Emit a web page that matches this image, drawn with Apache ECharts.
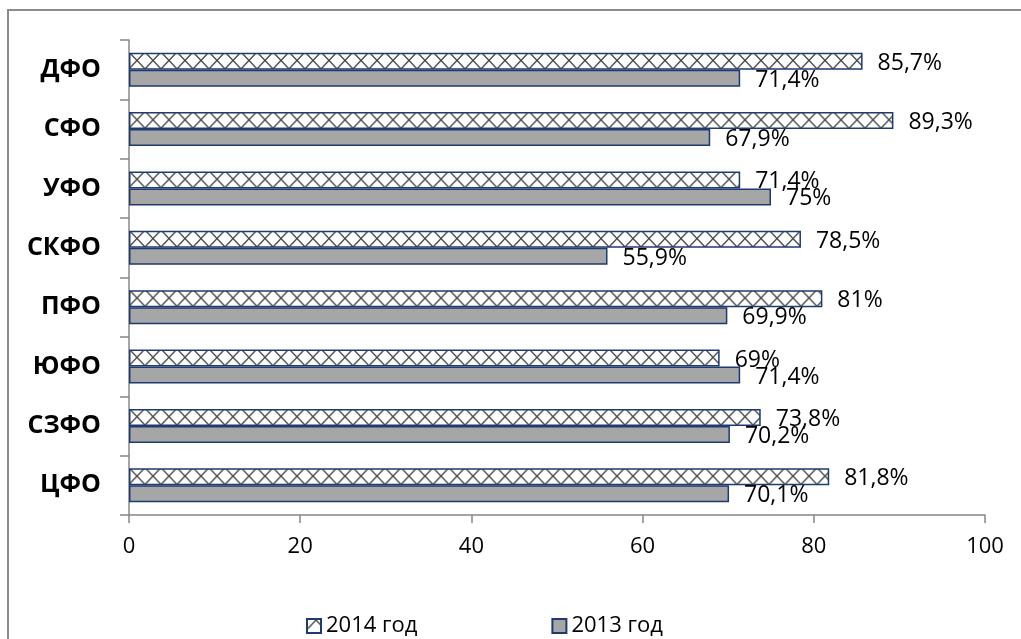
<!DOCTYPE html>
<html>
<head>
<meta charset="utf-8">
<script src="https://cdn.jsdelivr.net/npm/echarts@6/dist/echarts.min.js"></script>
<style>
html,body{margin:0;padding:0;background:#fff;}
#chart{width:1021px;height:639px;}
</style>
</head>
<body>
<div id="chart"></div>
<script>
const categories = ['ЦФО','СЗФО','ЮФО','ПФО','СКФО','УФО','СФО','ДФО'];
const values2014 = [81.8, 73.8, 69, 81, 78.5, 71.4, 89.3, 85.7];
const values2013 = [70.1, 70.2, 71.4, 69.9, 55.9, 75, 67.9, 71.4];
const seriesNames = ['2014 год', '2013 год'];
const xTicks = [0, 20, 40, 60, 80, 100];

function pct(v){ return String(v).replace('.', ',') + '%'; }

// hatch tile (crosses)
const tile = document.createElement('canvas');
tile.width = 16; tile.height = 60;
const c = tile.getContext('2d');
c.fillStyle = '#fff'; c.fillRect(0,0,16,60);
c.strokeStyle = '#4a4a4a'; c.lineWidth = 1.4;
c.beginPath();
c.moveTo(0,0); c.lineTo(16,17);
c.moveTo(16,0); c.lineTo(0,17);
c.stroke();

const FONT = '"Open Sans", sans-serif';
const chart = echarts.init(document.getElementById('chart'), null, {renderer:'canvas'});
const labelCfg = {
  show: true, position: 'right', distance: 15, offset: [0, 2],
  color: '#000', fontFamily: FONT, fontSize: 23,
  formatter: p => pct(p.value)
};
chart.setOption({
  animation: false,
  backgroundColor: '#fff',
  graphic: [{
    type: 'rect', silent: true,
    shape: {x: 8, y: 10, width: 1100, height: 700},
    style: {fill: 'none', stroke: '#8c8c8c', lineWidth: 2}
  }],
  grid: {left: 129, right: 36, top: 40, bottom: 124, containLabel: false},
  legend: {
    data: seriesNames, top: 610, left: 301,
    itemWidth: 14, itemHeight: 14, itemGap: 134,
    textStyle: {fontFamily: FONT, fontSize: 22, color: '#000'},
    icon: 'rect'
  },
  xAxis: {
    type: 'value', min: 0, max: 100, interval: 20,
    splitLine: {show: false},
    axisLine: {show: true, lineStyle: {color: '#878787', width: 1.5}},
    axisTick: {show: true, length: 8, lineStyle: {color: '#878787', width: 1.5}},
    axisLabel: {color: '#000', fontFamily: FONT, fontSize: 22, margin: 21}
  },
  yAxis: {
    type: 'category', data: categories,
    axisLine: {show: true, lineStyle: {color: '#878787', width: 1.5}},
    axisTick: {show: true, length: 9, lineStyle: {color: '#878787', width: 1.5}},
    axisLabel: {color: '#000', fontFamily: FONT, fontSize: 25, fontWeight: 'bold', margin: 28}
  },
  series: [
    {
      name: seriesNames[0], type: 'bar', data: values2014, barWidth: 17, barGap: '0%',
      itemStyle: {
        color: {image: tile, repeat: 'repeat', x: 129, y: 52, scaleY: 59.375/60},
        borderColor: '#1f3a6e', borderWidth: 1.5
      },
      label: labelCfg
    },
    {
      name: seriesNames[1], type: 'bar', data: values2013, barWidth: 17, barGap: '0%',
      itemStyle: {color: '#a6a6a6', borderColor: '#1f3a6e', borderWidth: 1.5},
      label: labelCfg
    }
  ]
});
</script>
</body>
</html>
